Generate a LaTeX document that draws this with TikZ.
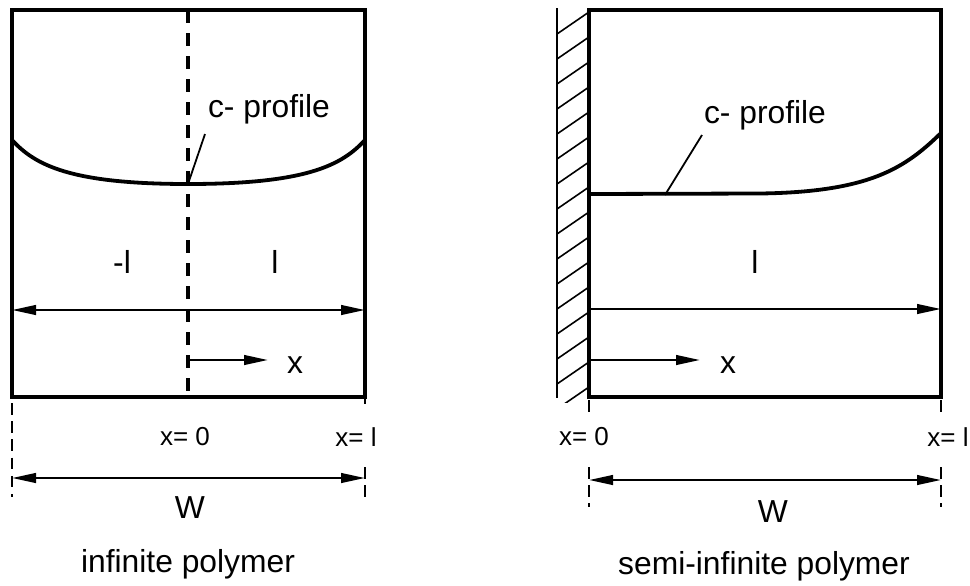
\documentclass[tikz,border=0pt]{standalone}
\usepackage{fontspec}
\setmainfont{Liberation Sans}
\usetikzlibrary{arrows.meta,positioning,calc}

\begin{document}
\begin{tikzpicture}[
    x=0.5pt, y=-0.5pt,
    boxline/.style={draw, line width=1.7pt},
    wall/.style={line width=1.1pt},
    hatch/.style={line width=0.8pt},
    profile/.style={line width=1.9pt},
    midline/.style={line width=1.65pt, dash pattern=on 6.7pt off 4.8pt},
    guide/.style={line width=1.2pt, dash pattern=on 5.8pt off 3.3pt},
    leader/.style={line width=0.9pt},
    dimarrow/.style={line width=1.2pt, >={Triangle[length=12pt,width=4.8pt]}},
    lbl/.style={font=\fontsize{15.9}{19}\selectfont, inner sep=0pt},
    smalllbl/.style={font=\fontsize{13}{15}\selectfont, inner sep=0pt}
]
    \useasboundingbox (0,0) rectangle (970,585);

    % infinite polymer
    \coordinate (L-nw) at (12,10);
    \coordinate (L-se) at (365,397);
    \coordinate (L-top) at (188,10);
    \coordinate (L-bot) at (188,397);
    \coordinate (L-min) at (188,184);
    \coordinate (L-lead) at (205,134);
    \draw[boxline] (L-nw) rectangle (L-se);
    \draw[midline] (L-top) -- (L-bot);
    \draw[profile] (12,140) .. controls (35,165) and (70,184) .. (L-min)
                   .. controls (307,184) and (342,165) .. (365,140);
    \node[lbl] (L-prof) at (269,109) {c- profile};
    \draw[leader] (L-min) -- (L-lead);
    \node[lbl] (L-neg) at (122,262) {-l};
    \node[lbl] (L-pos) at (275,262) {l};
    \coordinate (L-a1) at (12,310);
    \coordinate (L-a2) at (365,310);
    \draw[dimarrow,<->] (L-a1) -- (L-a2);
    \coordinate (L-x0) at (188,360);
    \coordinate (L-x1) at (268,360);
    \draw[dimarrow,->] (L-x0) -- (L-x1);
    \node[lbl] (L-x) at (295,365) {x};

    \draw[guide] (12,403) -- (12,497);
    \draw[guide] (365,397) -- (365,404);
    \draw[guide] (365,467) -- (365,497);
    \node[smalllbl] (L-xzero) at (185,437) {x= 0};
    \node[smalllbl] (L-xl) at (356,437) {x= l};
    \coordinate (L-w1) at (12,478);
    \coordinate (L-w2) at (365,478);
    \draw[dimarrow,<->] (L-w1) -- (L-w2);
    \node[lbl] (L-W) at (190,508) {W};
    \node[lbl] (L-title) at (188,564) {infinite polymer};

    % semi-infinite polymer
    \coordinate (R-nw) at (589,10);
    \coordinate (R-se) at (941,397);
    \coordinate (R-w1) at (557,8);
    \coordinate (R-w2) at (557,398);
    \draw[wall] (R-w1) -- (R-w2);
    \begin{scope}
        \clip (557,8) rectangle (589,402);
        \foreach \y in {12,37,...,387}
            \draw[hatch] (589,\y) -- ++(-32,22);
    \end{scope}
    \draw[boxline] (R-nw) rectangle (R-se);
    \coordinate (R-start) at (589,194);
    \coordinate (R-flat) at (760,193.5);
    \coordinate (R-end) at (941,133);
    \draw[profile] (R-start) -- (R-flat) .. controls (870,192) and (905,168) .. (R-end);
    \coordinate (R-foot) at (665,195);
    \coordinate (R-lead) at (702,135);
    \node[lbl] (R-prof) at (765,115) {c- profile};
    \draw[leader] (R-foot) -- (R-lead);
    \node[lbl] (R-pos) at (755,262) {l};
    \coordinate (R-a1) at (589,309);
    \coordinate (R-a2) at (941,309);
    \draw[dimarrow,->] (R-a1) -- (R-a2);
    \coordinate (R-x0) at (589,360);
    \coordinate (R-x1) at (700,360);
    \draw[dimarrow,->] (R-x0) -- (R-x1);
    \node[lbl] (R-x) at (728,365) {x};

    \draw[guide] (589,400) -- (589,413);
    \draw[guide] (941,400) -- (941,413);
    \draw[guide] (589,467) -- (589,507);
    \draw[guide] (941,467) -- (941,507);
    \node[smalllbl] (R-xzero) at (584,437) {x= 0};
    \node[smalllbl] (R-xl) at (948,437) {x= l};
    \coordinate (R-d1) at (589,480);
    \coordinate (R-d2) at (941,480);
    \draw[dimarrow,<->] (R-d1) -- (R-d2);
    \node[lbl] (R-W) at (773,512) {W};
    \node[lbl] (R-title) at (764,566) {semi-infinite polymer};
\end{tikzpicture}
\end{document}
